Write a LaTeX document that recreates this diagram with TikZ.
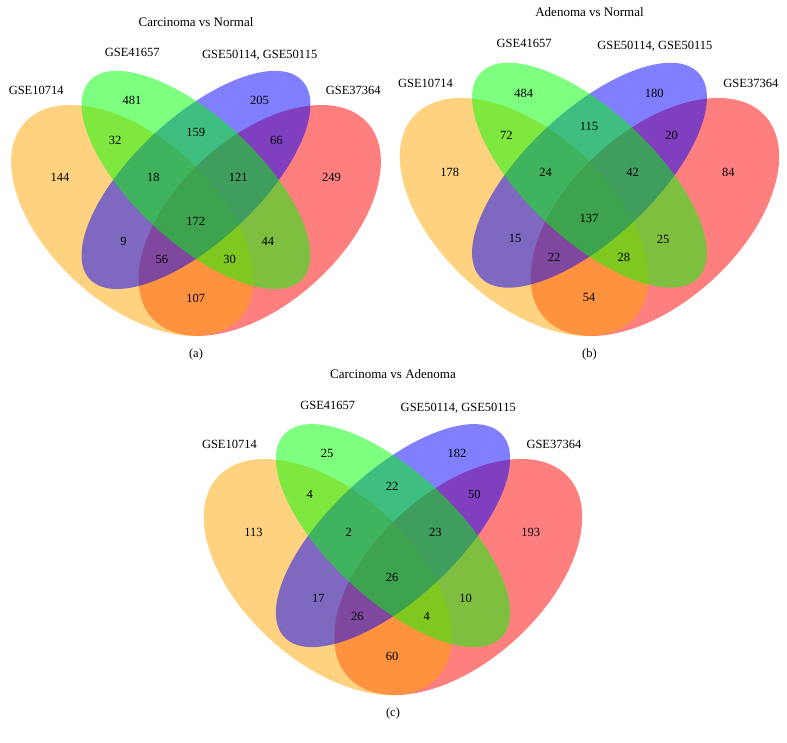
\documentclass[tikz,border=0pt]{standalone}
\usepackage{fontspec}
\setmainfont{Liberation Serif}
\definecolor{vennyellow}{RGB}{255,165,0}
\definecolor{venngreen}{RGB}{0,255,0}
\definecolor{vennblue}{RGB}{0,0,255}
\definecolor{vennred}{RGB}{255,0,0}

\tikzset{
  setfill/.style={fill opacity=0.5},
  count/.style={font=\fontsize{12.5}{14}\selectfont, inner sep=1pt},
  setname/.style={font=\fontsize{12.5}{14}\selectfont, inner sep=1pt},
  paneltitle/.style={font=\fontsize{13}{15}\selectfont, inner sep=1pt},
  paneltag/.style={font=\fontsize{12.5}{14}\selectfont, inner sep=1pt}
}

% four ellipses, drawn red, yellow, blue, green
\newcommand{\vennellipses}{%
  \fill[setfill, fill=vennred, rotate around={45:(0.65,0.47)}] (0.65,0.47) ellipse [x radius=0.35, y radius=0.2];
  \fill[setfill, fill=vennyellow, rotate around={-45:(0.35,0.47)}] (0.35,0.47) ellipse [x radius=0.35, y radius=0.2];
  \fill[setfill, fill=vennblue, rotate around={45:(0.5,0.57)}] (0.5,0.57) ellipse [x radius=0.35, y radius=0.15];
  \fill[setfill, fill=venngreen, rotate around={-45:(0.5,0.57)}] (0.5,0.57) ellipse [x radius=0.35, y radius=0.15];
}

% region spots and set names of one panel
\newcommand{\vennspots}[3]{%
  \coordinate (#1-g) at (0.35,0.77);
  \coordinate (#1-b) at (0.65,0.77);
  \coordinate (#1-yg) at (0.31,0.67);
  \coordinate (#1-gb) at (0.5,0.69);
  \coordinate (#1-br) at (0.69,0.67);
  \coordinate (#1-y) at (0.18,0.58);
  \coordinate (#1-ygb) at (0.40,0.58);
  \coordinate (#1-gbr) at (0.60,0.58);
  \coordinate (#1-r) at (0.82,0.58);
  \coordinate (#1-all) at (0.5,0.47);
  \coordinate (#1-yb) at (0.33,0.42);
  \coordinate (#1-gr) at (0.67,0.42);
  \coordinate (#1-ybr) at (0.42,0.375);
  \coordinate (#1-ygr) at (0.58,0.375);
  \coordinate (#1-yr) at (0.5,0.28);
  \node[paneltitle] (#1-title) at (0.5,0.96) {#2};
  \node[setname] (#1-s41657) at (0.35,0.885) {GSE41657};
  \node[setname] (#1-s50114) at (0.65,0.878) {GSE50114, GSE50115};
  \node[setname] (#1-s10714) at (0.124,0.79) {GSE10714};
  \node[setname] (#1-s37364) at (0.87,0.79) {GSE37364};
  \node[paneltag] (#1-tag) at (0.5,0.14) {#3};
}

\begin{document}
\begin{tikzpicture}[x=1pt, y=1pt]
  \useasboundingbox (0,0) rectangle (787,742);

  % (a) Carcinoma vs Normal
  \begin{scope}[shift={(-16.5,331.2)}, xscale=425, yscale=405]
    \vennellipses
    \vennspots{a}{Carcinoma vs Normal}{(a)}
    \foreach \reg/\val in {g/481, b/205, yg/32, gb/159, br/66, y/144, ygb/18, gbr/121,
        r/249, all/172, yb/9, gr/44, ybr/56, ygr/30, yr/107}
      \node[count] (a-n\reg) at (a-\reg) {\val};
  \end{scope}

  % (b) Adenoma vs Normal
  \begin{scope}[shift={(371.5,328.8)}, xscale=436, yscale=417.5]
    \vennellipses
    \vennspots{b}{Adenoma vs Normal}{(b)}
    \foreach \reg/\val in {g/484, b/180, yg/72, gb/115, br/20, y/178, ygb/24, gbr/42,
        r/84, all/137, yb/15, gr/25, ybr/22, ygr/28, yr/54}
      \node[count] (b-n\reg) at (b-\reg) {\val};
  \end{scope}

  % (c) Carcinoma vs Adenoma
  \begin{scope}[shift={(175.5,-29.6)}, xscale=435, yscale=414]
    \vennellipses
    \vennspots{c}{Carcinoma vs Adenoma}{(c)}
    \foreach \reg/\val in {g/25, b/182, yg/4, gb/22, br/50, y/113, ygb/2, gbr/23,
        r/193, all/26, yb/17, gr/10, ybr/26, ygr/4, yr/60}
      \node[count] (c-n\reg) at (c-\reg) {\val};
  \end{scope}
\end{tikzpicture}
\end{document}
